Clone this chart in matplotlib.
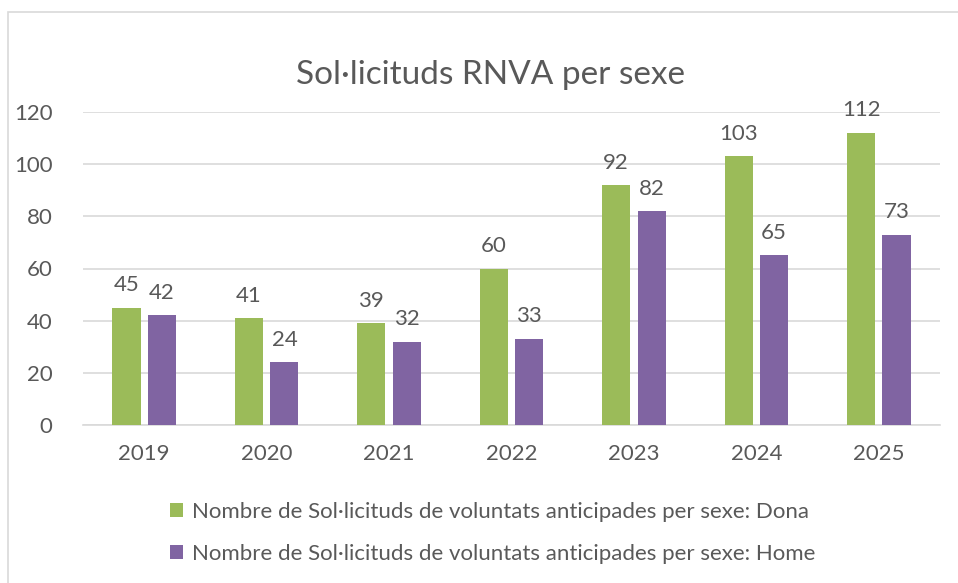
import matplotlib
matplotlib.use("Agg")
import matplotlib.pyplot as plt
import numpy as np
from matplotlib.patches import Rectangle

years = ["2019", "2020", "2021", "2022", "2023", "2024", "2025"]
dona = [45, 41, 39, 60, 92, 103, 112]
home = [42, 24, 32, 33, 82, 65, 73]
label_dona = "Nombre de Sol·licituds de voluntats anticipades per sexe: Dona"
label_home = "Nombre de Sol·licituds de voluntats anticipades per sexe: Home"

GREEN = "#9bbb59"
PURPLE = "#8064a2"
TEXT = "#595959"
GRID = "#d9d9d9"

plt.rcParams["font.family"] = ["Lato", "DejaVu Sans"]

fig = plt.figure(figsize=(9.58, 5.83), dpi=100)
# chart frame: only left and top edges fall inside the image
fig.patches.append(Rectangle((8 / 958, -0.05), 1.0, 1.05 - 12 / 583,
                             transform=fig.transFigure, fill=False,
                             edgecolor="#d9d9d9", linewidth=1.2))
ax = fig.add_axes([83 / 958, 1 - 425 / 583, 857 / 958, (425 - 112) / 583])

x = np.arange(len(years))
w = 0.23
off = 0.145
b1 = ax.bar(x - off, dona, w, color=GREEN, label=label_dona, zorder=3)
b2 = ax.bar(x + off, home, w, color=PURPLE, label=label_home, zorder=3)
for bars in (b1, b2):
    ax.bar_label(bars, padding=9, fontsize=16, color=TEXT)

ax.set_xlim(-0.5, len(years) - 0.5)
ax.set_ylim(0, 120)
ax.set_yticks(range(0, 121, 20))
ax.set_xticks(x, years)
ax.yaxis.grid(True, color=GRID, linewidth=1.2, zorder=0)
for s in ("top", "right", "left"):
    ax.spines[s].set_visible(False)
ax.spines["bottom"].set_color(GRID)
ax.spines["bottom"].set_linewidth(1.2)
ax.tick_params(axis="both", length=0, labelsize=16, labelcolor=TEXT)
ax.tick_params(axis="x", pad=14)
ax.tick_params(axis="y", pad=22)

fig.text(490 / 958, 1 - 75 / 583, "Sol·licituds RNVA per sexe", ha="center",
         va="center", fontsize=24, color=TEXT)

fig.legend(handles=[b1, b2], loc="upper left", bbox_to_anchor=(161 / 958, 1 - 493 / 583),
           frameon=False, fontsize=16, labelcolor=TEXT, handlelength=0.6,
           handleheight=0.6, handletextpad=0.4, labelspacing=1.0, borderaxespad=0)

fig.savefig("out.png", dpi=100)
